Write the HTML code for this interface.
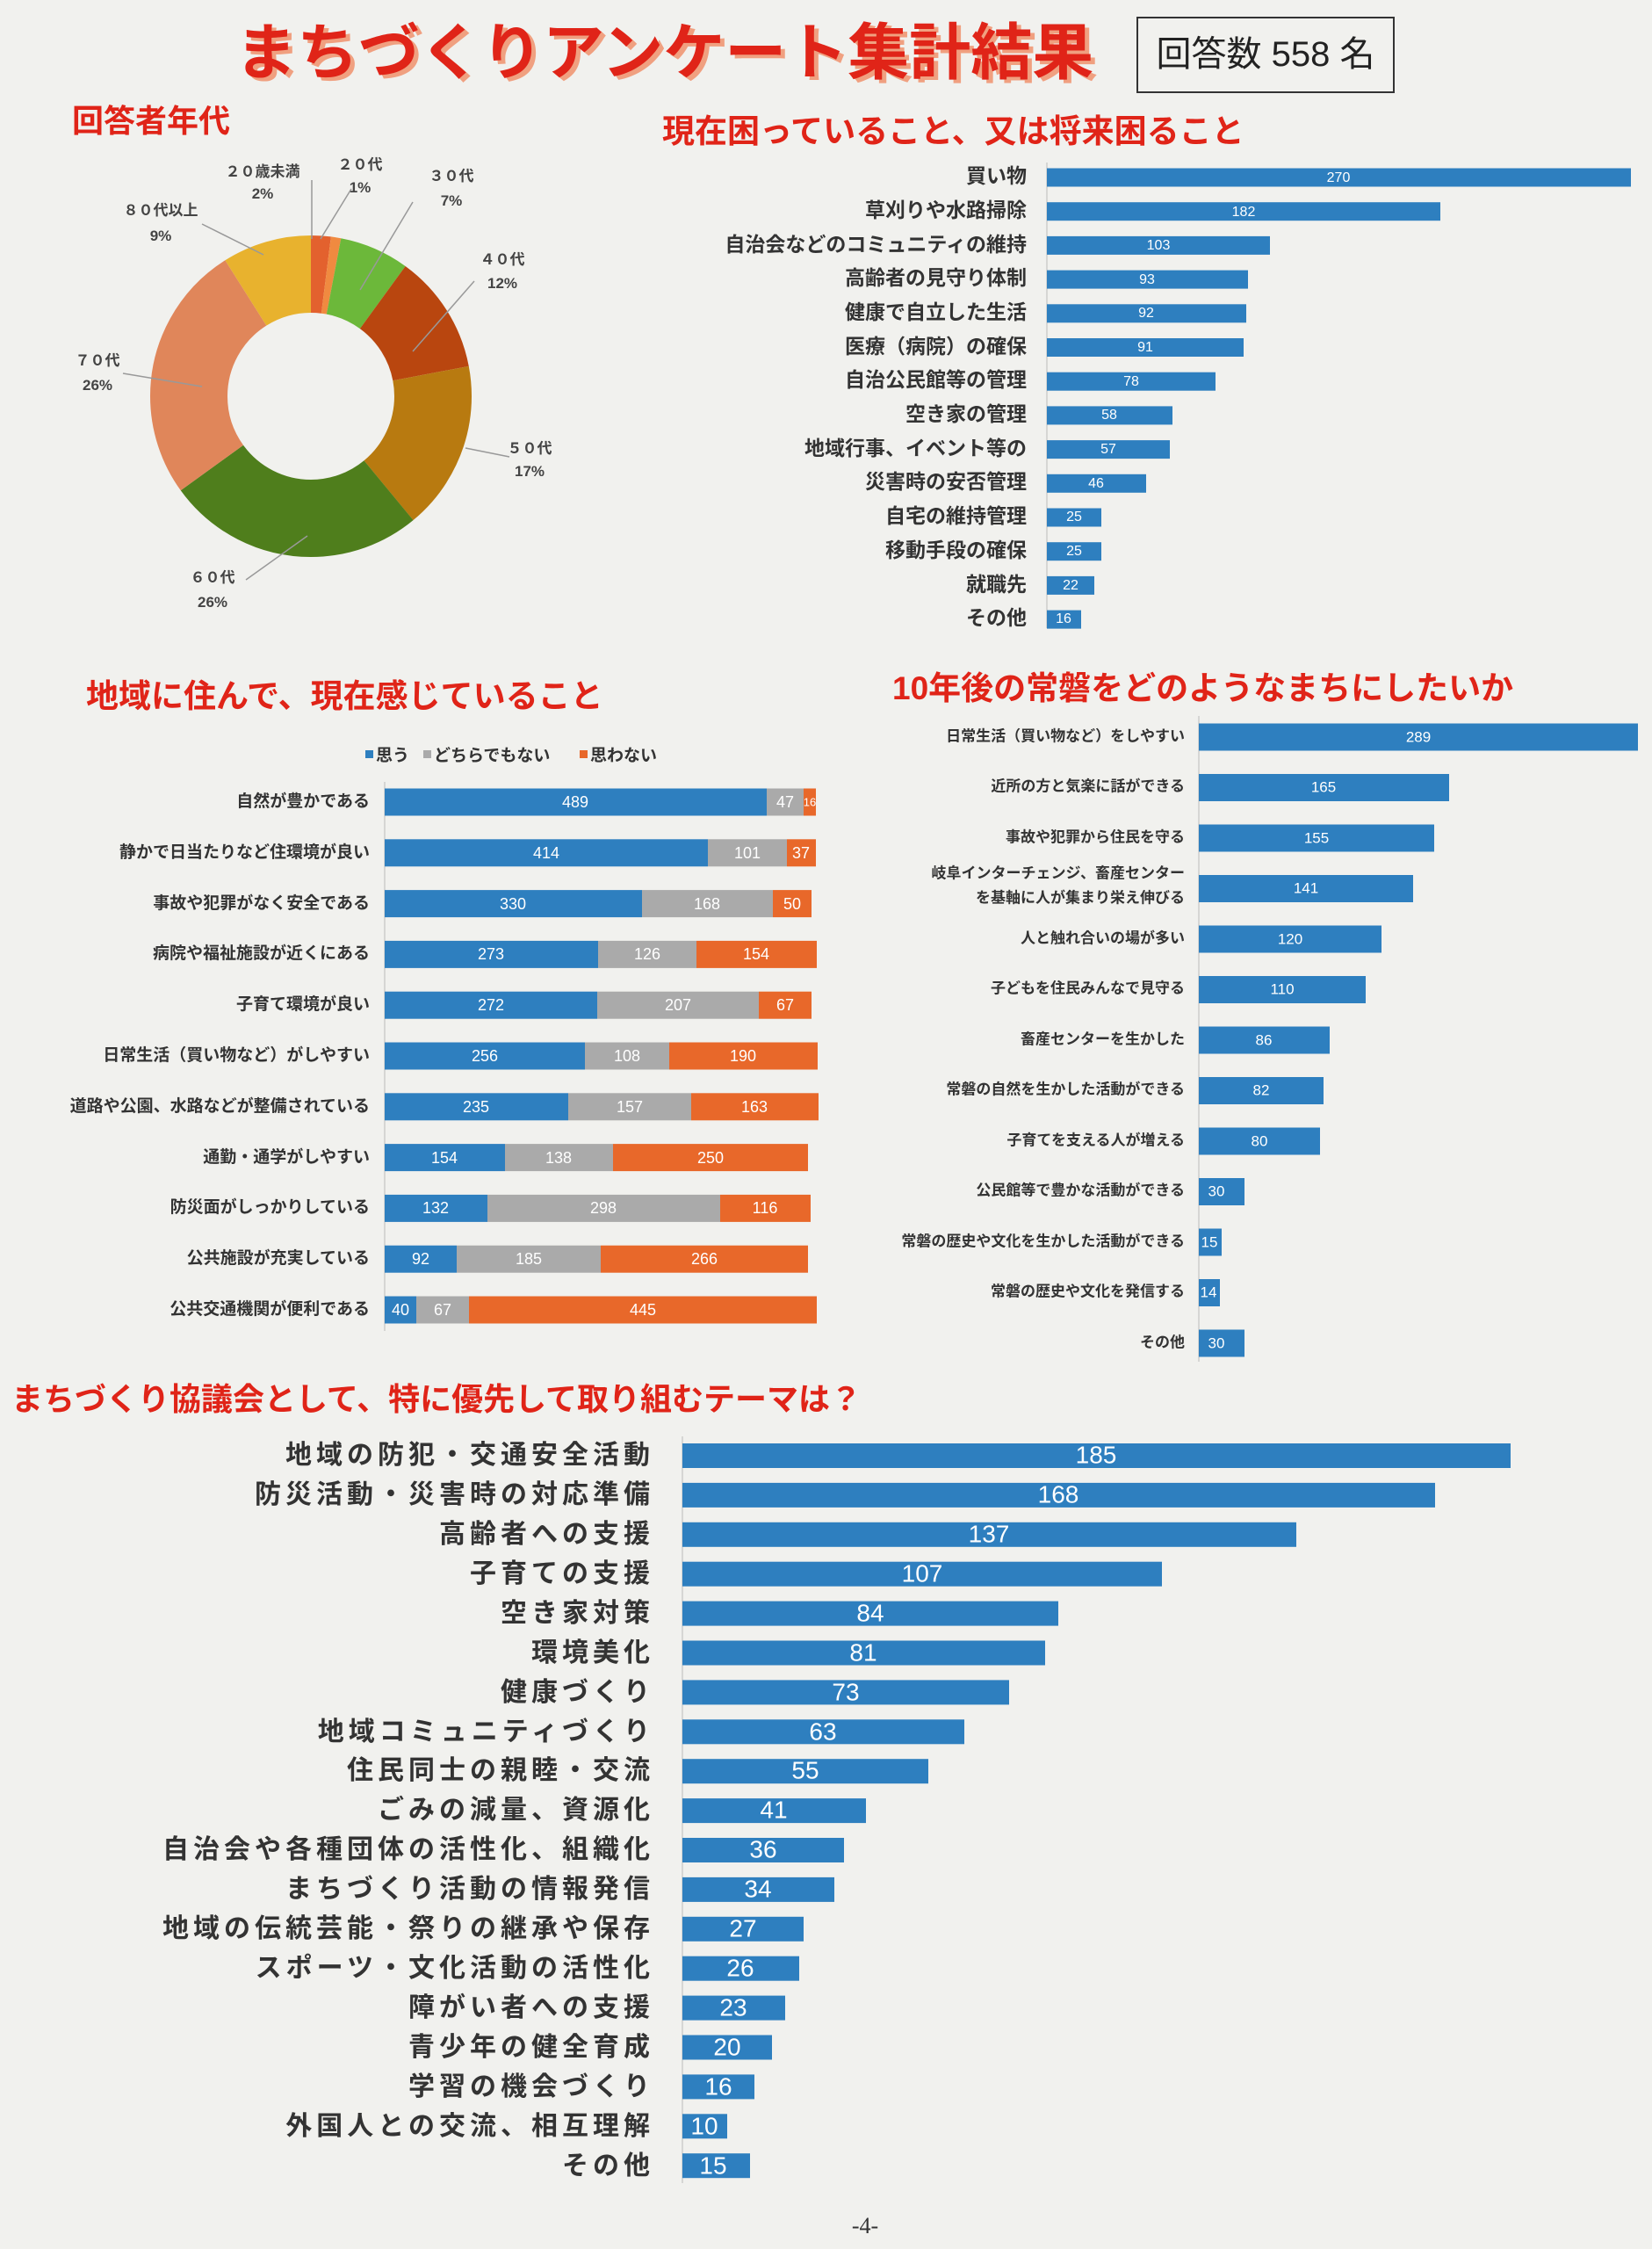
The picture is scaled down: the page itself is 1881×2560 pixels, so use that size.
<!DOCTYPE html>
<html><head><meta charset="utf-8"><style>
body{margin:0;background:#f1f1ee;}
svg{display:block;font-family:"Liberation Sans","Noto Sans CJK JP",sans-serif;}
.h{fill:#e02418;font-weight:bold;}
.l{fill:#333;font-weight:bold;text-anchor:end;dominant-baseline:middle;}
.v{fill:#fff;text-anchor:middle;dominant-baseline:middle;}
.p{fill:#444;font-size:17px;text-anchor:middle;font-weight:bold;}
</style></head><body>
<svg width="1881" height="2560" viewBox="0 0 1881 2560">
<rect width="1881" height="2560" fill="#f1f1ee"/>
<!-- title -->
<text x="273" y="88" font-size="70" font-weight="bold" fill="#f0a080">まちづくりアンケート集計結果</text>
<text x="268" y="84" font-size="70" font-weight="bold" fill="#e02418">まちづくりアンケート集計結果</text>
<rect x="1295" y="20" width="292" height="85" fill="none" stroke="#333" stroke-width="2"/>
<text x="1441" y="75" font-size="40" text-anchor="middle" fill="#222">回答数 558 名</text>
<text class="h" x="82" y="150" font-size="36">回答者年代</text>
<text class="h" x="754" y="162" font-size="37">現在困っていること、又は将来困ること</text>
<!-- donut -->
<g transform="rotate(-90 354 451)" fill="none" stroke-width="88">
<circle cx="354" cy="451" r="139" stroke="#e3612e" stroke-dasharray="17.47 900"/>
<circle cx="354" cy="451" r="139" stroke="#f08a40" stroke-dasharray="8.73 900" stroke-dashoffset="-17.47"/>
<circle cx="354" cy="451" r="139" stroke="#6cb83a" stroke-dasharray="61.14 900" stroke-dashoffset="-26.2"/>
<circle cx="354" cy="451" r="139" stroke="#b9460f" stroke-dasharray="104.8 900" stroke-dashoffset="-87.34"/>
<circle cx="354" cy="451" r="139" stroke="#b87a10" stroke-dasharray="148.5 900" stroke-dashoffset="-192.15"/>
<circle cx="354" cy="451" r="139" stroke="#4f7e1c" stroke-dasharray="227.1 900" stroke-dashoffset="-340.6"/>
<circle cx="354" cy="451" r="139" stroke="#e0865a" stroke-dasharray="227.1 900" stroke-dashoffset="-567.7"/>
<circle cx="354" cy="451" r="139" stroke="#e8b22e" stroke-dasharray="78.6 900" stroke-dashoffset="-794.8"/>
</g>
<g stroke="#999" stroke-width="1.5" fill="none">
<path d="M355 272 L355 205"/><path d="M365 272 L400 215"/><path d="M410 330 L470 230"/><path d="M470 400 L540 320"/><path d="M530 510 L580 520"/><path d="M350 610 L280 660"/><path d="M230 440 L140 425"/><path d="M300 290 L230 255"/>
</g>
<text class="p" x="299" y="201">２０歳未満</text><text class="p" x="299" y="226">2%</text>
<text class="p" x="410" y="193">２０代</text><text class="p" x="410" y="219">1%</text>
<text class="p" x="514" y="206">３０代</text><text class="p" x="514" y="234">7%</text>
<text class="p" x="572" y="301">４０代</text><text class="p" x="572" y="328">12%</text>
<text class="p" x="603" y="516">５０代</text><text class="p" x="603" y="542">17%</text>
<text class="p" x="242" y="663">６０代</text><text class="p" x="242" y="691">26%</text>
<text class="p" x="111" y="416">７０代</text><text class="p" x="111" y="444">26%</text>
<text class="p" x="183" y="245">８０代以上</text><text class="p" x="183" y="274">9%</text>
<!-- chart1 -->
<line x1="1192" y1="185" x2="1192" y2="715" stroke="#bbb"/>
<g fill="#2e7fbf">
<rect x="1192" y="191.5" width="665" height="21"/><rect x="1192" y="230.2" width="448" height="21"/><rect x="1192" y="268.9" width="254" height="21"/><rect x="1192" y="307.6" width="229" height="21"/><rect x="1192" y="346.3" width="227" height="21"/><rect x="1192" y="385" width="224" height="21"/><rect x="1192" y="423.7" width="192" height="21"/><rect x="1192" y="462.4" width="143" height="21"/><rect x="1192" y="501.1" width="140" height="21"/><rect x="1192" y="539.8" width="113" height="21"/><rect x="1192" y="578.5" width="62" height="21"/><rect x="1192" y="617.2" width="62" height="21"/><rect x="1192" y="655.9" width="54" height="21"/><rect x="1192" y="694.6" width="39" height="21"/>
</g>
<g font-size="16" class="v">
<text class="v" x="1524" y="203">270</text><text class="v" x="1416" y="242">182</text><text class="v" x="1319" y="280">103</text><text class="v" x="1306" y="319">93</text><text class="v" x="1305" y="357">92</text><text class="v" x="1304" y="396">91</text><text class="v" x="1288" y="435">78</text><text class="v" x="1263" y="473">58</text><text class="v" x="1262" y="512">57</text><text class="v" x="1248" y="551">46</text><text class="v" x="1223" y="589">25</text><text class="v" x="1223" y="628">25</text><text class="v" x="1219" y="667">22</text><text class="v" x="1211" y="705">16</text>
</g>
<g font-size="23" class="l">
<text class="l" x="1169" y="202">買い物</text><text class="l" x="1169" y="241">草刈りや水路掃除</text><text class="l" x="1169" y="280">自治会などのコミュニティの維持</text><text class="l" x="1169" y="318">高齢者の見守り体制</text><text class="l" x="1169" y="357">健康で自立した生活</text><text class="l" x="1169" y="396">医療（病院）の確保</text><text class="l" x="1169" y="434">自治公民館等の管理</text><text class="l" x="1169" y="473">空き家の管理</text><text class="l" x="1169" y="512">地域行事、イベント等の</text><text class="l" x="1169" y="550">災害時の安否管理</text><text class="l" x="1169" y="589">自宅の維持管理</text><text class="l" x="1169" y="628">移動手段の確保</text><text class="l" x="1169" y="667">就職先</text><text class="l" x="1169" y="705">その他</text>
</g>
<!-- headings 2 -->
<text class="h" x="98" y="805" font-size="37">地域に住んで、現在感じていること</text>
<text class="h" x="1016" y="796" font-size="37">10年後の常磐をどのようなまちにしたいか</text>
<!-- legend -->
<g font-size="19" fill="#333" font-weight="bold">
<rect x="416" y="854" width="9" height="9" fill="#2e7fbf"/><text x="428" y="866">思う</text>
<rect x="482" y="854" width="9" height="9" fill="#aaa"/><text x="494" y="866">どちらでもない</text>
<rect x="660" y="854" width="9" height="9" fill="#e8682a"/><text x="672" y="866">思わない</text>
</g>
<line x1="438" y1="890" x2="438" y2="1515" stroke="#bbb"/>
<g id="s">
<rect x="438" y="897.5" width="435" height="31" fill="#2e7fbf"/><rect x="873" y="897.5" width="42" height="31" fill="#aaa"/><rect x="915" y="897.5" width="14" height="31" fill="#e8682a"/>
<rect x="438" y="955.3" width="368" height="31" fill="#2e7fbf"/><rect x="806" y="955.3" width="90" height="31" fill="#aaa"/><rect x="896" y="955.3" width="33" height="31" fill="#e8682a"/>
<rect x="438" y="1013.1" width="293" height="31" fill="#2e7fbf"/><rect x="731" y="1013.1" width="149" height="31" fill="#aaa"/><rect x="880" y="1013.1" width="44" height="31" fill="#e8682a"/>
<rect x="438" y="1070.9" width="243" height="31" fill="#2e7fbf"/><rect x="681" y="1070.9" width="112" height="31" fill="#aaa"/><rect x="793" y="1070.9" width="137" height="31" fill="#e8682a"/>
<rect x="438" y="1128.7" width="242" height="31" fill="#2e7fbf"/><rect x="680" y="1128.7" width="184" height="31" fill="#aaa"/><rect x="864" y="1128.7" width="60" height="31" fill="#e8682a"/>
<rect x="438" y="1186.5" width="228" height="31" fill="#2e7fbf"/><rect x="666" y="1186.5" width="96" height="31" fill="#aaa"/><rect x="762" y="1186.5" width="169" height="31" fill="#e8682a"/>
<rect x="438" y="1244.3" width="209" height="31" fill="#2e7fbf"/><rect x="647" y="1244.3" width="140" height="31" fill="#aaa"/><rect x="787" y="1244.3" width="145" height="31" fill="#e8682a"/>
<rect x="438" y="1302.1" width="137" height="31" fill="#2e7fbf"/><rect x="575" y="1302.1" width="123" height="31" fill="#aaa"/><rect x="698" y="1302.1" width="222" height="31" fill="#e8682a"/>
<rect x="438" y="1359.9" width="117" height="31" fill="#2e7fbf"/><rect x="555" y="1359.9" width="265" height="31" fill="#aaa"/><rect x="820" y="1359.9" width="103" height="31" fill="#e8682a"/>
<rect x="438" y="1417.7" width="82" height="31" fill="#2e7fbf"/><rect x="520" y="1417.7" width="164" height="31" fill="#aaa"/><rect x="684" y="1417.7" width="236" height="31" fill="#e8682a"/>
<rect x="438" y="1475.5" width="36" height="31" fill="#2e7fbf"/><rect x="474" y="1475.5" width="60" height="31" fill="#aaa"/><rect x="534" y="1475.5" width="396" height="31" fill="#e8682a"/>
</g>
<g font-size="18">
<text class="v" x="655" y="914">489</text><text class="v" x="894" y="914">47</text><text class="v" x="922" y="914" font-size="13">16</text>
<text class="v" x="622" y="972">414</text><text class="v" x="851" y="972">101</text><text class="v" x="912" y="972">37</text>
<text class="v" x="584" y="1030">330</text><text class="v" x="805" y="1030">168</text><text class="v" x="902" y="1030">50</text>
<text class="v" x="559" y="1087">273</text><text class="v" x="737" y="1087">126</text><text class="v" x="861" y="1087">154</text>
<text class="v" x="559" y="1145">272</text><text class="v" x="772" y="1145">207</text><text class="v" x="894" y="1145">67</text>
<text class="v" x="552" y="1203">256</text><text class="v" x="714" y="1203">108</text><text class="v" x="846" y="1203">190</text>
<text class="v" x="542" y="1261">235</text><text class="v" x="717" y="1261">157</text><text class="v" x="859" y="1261">163</text>
<text class="v" x="506" y="1319">154</text><text class="v" x="636" y="1319">138</text><text class="v" x="809" y="1319">250</text>
<text class="v" x="496" y="1376">132</text><text class="v" x="687" y="1376">298</text><text class="v" x="871" y="1376">116</text>
<text class="v" x="479" y="1434">92</text><text class="v" x="602" y="1434">185</text><text class="v" x="802" y="1434">266</text>
<text class="v" x="456" y="1492">40</text><text class="v" x="504" y="1492">67</text><text class="v" x="732" y="1492">445</text>
</g>
<g font-size="19">
<text class="l" x="421" y="913">自然が豊かである</text><text class="l" x="421" y="971">静かで日当たりなど住環境が良い</text><text class="l" x="421" y="1029">事故や犯罪がなく安全である</text><text class="l" x="421" y="1086">病院や福祉施設が近くにある</text><text class="l" x="421" y="1144">子育て環境が良い</text><text class="l" x="421" y="1202">日常生活（買い物など）がしやすい</text><text class="l" x="421" y="1260">道路や公園、水路などが整備されている</text><text class="l" x="421" y="1318">通勤・通学がしやすい</text><text class="l" x="421" y="1375">防災面がしっかりしている</text><text class="l" x="421" y="1433">公共施設が充実している</text><text class="l" x="421" y="1491">公共交通機関が便利である</text>
</g>
<!-- chart3 -->
<line x1="1365" y1="815" x2="1365" y2="1550" stroke="#bbb"/>
<g fill="#2e7fbf">
<rect x="1365" y="823.5" width="500" height="31"/><rect x="1365" y="881" width="285" height="31"/><rect x="1365" y="938.5" width="268" height="31"/><rect x="1365" y="996" width="244" height="31"/><rect x="1365" y="1053.5" width="208" height="31"/><rect x="1365" y="1111" width="190" height="31"/><rect x="1365" y="1168.5" width="149" height="31"/><rect x="1365" y="1226" width="142" height="31"/><rect x="1365" y="1283.5" width="138" height="31"/><rect x="1365" y="1341" width="52" height="31"/><rect x="1365" y="1398.5" width="26" height="31"/><rect x="1365" y="1456" width="24" height="31"/><rect x="1365" y="1513.5" width="52" height="31"/>
</g>
<g font-size="17">
<text class="v" x="1615" y="840">289</text><text class="v" x="1507" y="897">165</text><text class="v" x="1499" y="955">155</text><text class="v" x="1487" y="1012">141</text><text class="v" x="1469" y="1070">120</text><text class="v" x="1460" y="1127">110</text><text class="v" x="1439" y="1185">86</text><text class="v" x="1436" y="1242">82</text><text class="v" x="1434" y="1300">80</text><text class="v" x="1385" y="1357">30</text><text class="v" x="1377" y="1415">15</text><text class="v" x="1376" y="1472">14</text><text class="v" x="1385" y="1530">30</text>
</g>
<g font-size="17">
<text class="l" x="1349" y="839">日常生活（買い物など）をしやすい</text><text class="l" x="1349" y="896">近所の方と気楽に話ができる</text><text class="l" x="1349" y="954">事故や犯罪から住民を守る</text><text class="l" x="1349" y="995">岐阜インターチェンジ、畜産センター</text><text class="l" x="1349" y="1023">を基軸に人が集まり栄え伸びる</text><text class="l" x="1349" y="1069">人と触れ合いの場が多い</text><text class="l" x="1349" y="1126">子どもを住民みんなで見守る</text><text class="l" x="1349" y="1184">畜産センターを生かした</text><text class="l" x="1349" y="1241">常磐の自然を生かした活動ができる</text><text class="l" x="1349" y="1299">子育てを支える人が増える</text><text class="l" x="1349" y="1356">公民館等で豊かな活動ができる</text><text class="l" x="1349" y="1414">常磐の歴史や文化を生かした活動ができる</text><text class="l" x="1349" y="1471">常磐の歴史や文化を発信する</text><text class="l" x="1349" y="1529">その他</text>
</g>
<!-- chart4 -->
<text class="h" x="13" y="1605" font-size="36">まちづくり協議会として、特に優先して取り組むテーマは？</text>
<line x1="777" y1="1635" x2="777" y2="2485" stroke="#bbb"/>
<g fill="#2e7fbf">
<rect x="777" y="1643" width="943" height="28"/><rect x="777" y="1687.9" width="857" height="28"/><rect x="777" y="1732.8" width="699" height="28"/><rect x="777" y="1777.7" width="546" height="28"/><rect x="777" y="1822.6" width="428" height="28"/><rect x="777" y="1867.5" width="413" height="28"/><rect x="777" y="1912.4" width="372" height="28"/><rect x="777" y="1957.3" width="321" height="28"/><rect x="777" y="2002.2" width="280" height="28"/><rect x="777" y="2047.1" width="209" height="28"/><rect x="777" y="2092" width="184" height="28"/><rect x="777" y="2136.9" width="173" height="28"/><rect x="777" y="2181.8" width="138" height="28"/><rect x="777" y="2226.7" width="133" height="28"/><rect x="777" y="2271.6" width="117" height="28"/><rect x="777" y="2316.5" width="102" height="28"/><rect x="777" y="2361.4" width="82" height="28"/><rect x="777" y="2406.3" width="51" height="28"/><rect x="777" y="2451.2" width="77" height="28"/>
</g>
<g font-size="28">
<text class="v" x="1248" y="1658">185</text><text class="v" x="1205" y="1703">168</text><text class="v" x="1126" y="1748">137</text><text class="v" x="1050" y="1793">107</text><text class="v" x="991" y="1838">84</text><text class="v" x="983" y="1883">81</text><text class="v" x="963" y="1928">73</text><text class="v" x="937" y="1973">63</text><text class="v" x="917" y="2017">55</text><text class="v" x="881" y="2062">41</text><text class="v" x="869" y="2107">36</text><text class="v" x="863" y="2152">34</text><text class="v" x="846" y="2197">27</text><text class="v" x="843" y="2242">26</text><text class="v" x="835" y="2287">23</text><text class="v" x="828" y="2332">20</text><text class="v" x="818" y="2377">16</text><text class="v" x="802" y="2422">10</text><text class="v" x="812" y="2467">15</text>
</g>
<g font-size="30" letter-spacing="5">
<text class="l" x="745" y="1658">地域の防犯・交通安全活動</text><text class="l" x="745" y="1703">防災活動・災害時の対応準備</text><text class="l" x="745" y="1748">高齢者への支援</text><text class="l" x="745" y="1793">子育ての支援</text><text class="l" x="745" y="1838">空き家対策</text><text class="l" x="745" y="1883">環境美化</text><text class="l" x="745" y="1928">健康づくり</text><text class="l" x="745" y="1973">地域コミュニティづくり</text><text class="l" x="745" y="2017">住民同士の親睦・交流</text><text class="l" x="745" y="2062">ごみの減量、資源化</text><text class="l" x="745" y="2107">自治会や各種団体の活性化、組織化</text><text class="l" x="745" y="2152">まちづくり活動の情報発信</text><text class="l" x="745" y="2197">地域の伝統芸能・祭りの継承や保存</text><text class="l" x="745" y="2242">スポーツ・文化活動の活性化</text><text class="l" x="745" y="2287">障がい者への支援</text><text class="l" x="745" y="2332">青少年の健全育成</text><text class="l" x="745" y="2377">学習の機会づくり</text><text class="l" x="745" y="2422">外国人との交流、相互理解</text><text class="l" x="745" y="2467">その他</text>
</g>
<text x="985" y="2542" font-size="26" text-anchor="middle" fill="#333" font-family="Liberation Serif,serif">-4-</text>
</svg>
</body></html>
